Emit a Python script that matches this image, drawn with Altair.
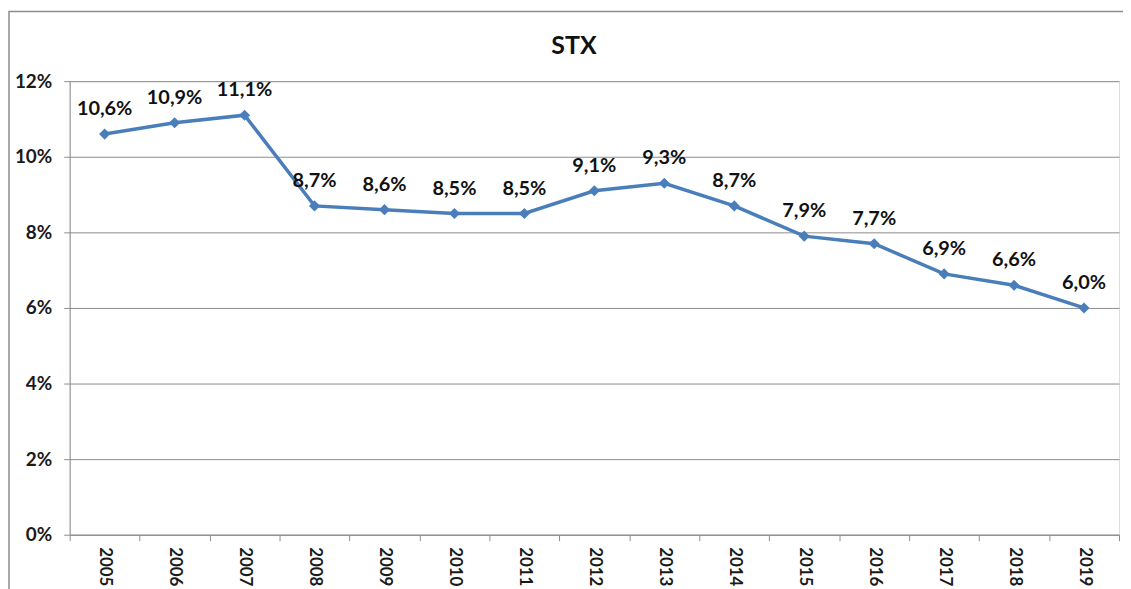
import altair as alt
import pandas as pd

years = ["2005", "2006", "2007", "2008", "2009", "2010", "2011", "2012",
         "2013", "2014", "2015", "2016", "2017", "2018", "2019"]
values = [10.6, 10.9, 11.1, 8.7, 8.6, 8.5, 8.5, 9.1, 9.3, 8.7, 7.9, 7.7, 6.9, 6.6, 6.0]
y_ticks = [0, 0.02, 0.04, 0.06, 0.08, 0.10, 0.12]
title_text = ["STX"]

df = pd.DataFrame({"year": years, "value": [v / 100 for v in values]})

FONT = "Lato"
LINE = "#4A7EBB"
W, H = 1055, 456

x_enc = alt.X("year:N", sort=years, title=None,
              scale=alt.Scale(paddingInner=0, paddingOuter=0),
              axis=alt.Axis(labelAngle=90, labelAlign="left", labelBaseline="middle",
                            labelFont=FONT, labelFontSize=17, labelFontWeight="bold",
                            labelColor="#1a1a1a", labelPadding=6,
                            tickBand="extent", tickSize=6, tickColor="#8c8c8c",
                            domainColor="#8c8c8c", grid=False))
y_enc = alt.Y("value:Q", title=None,
              scale=alt.Scale(domain=[0, 0.12], nice=False),
              axis=alt.Axis(values=y_ticks, format=".0%", labelFont=FONT,
                            labelFontSize=19, labelFontWeight="bold", labelColor="#1a1a1a",
                            labelPadding=12, tickSize=6, tickColor="#8c8c8c",
                            domainColor="#8c8c8c", gridColor="#8c8c8c", gridWidth=1))

base = alt.Chart(df)

border = alt.Chart(pd.DataFrame({"a": [0]})).mark_rect(
    fill=None, stroke="#8c8c8c", strokeWidth=1.5, clip=False
).encode(
    x=alt.value(-61), x2=alt.value(W + 40),
    y=alt.value(-70), y2=alt.value(H + 80)
)

title = alt.Chart(pd.DataFrame({"t": title_text})).mark_text(
    font=FONT, fontSize=25, fontWeight="bold", color="#111111",
    align="center", baseline="middle", clip=False
).encode(text="t:N", x=alt.value(507), y=alt.value(-35))

line = base.mark_line(color=LINE, strokeWidth=3.5).encode(x=x_enc, y=y_enc)
pts = base.mark_point(shape="diamond", filled=True, color=LINE, size=125, opacity=1).encode(
    x=alt.X("year:N", sort=years), y="value:Q")
labels = base.transform_calculate(
    lab="replace(format(datum.value, '.1%'), '.', ',')"
).mark_text(font=FONT, fontSize=20, fontWeight="bold", color="#111111",
            dy=-25, baseline="middle", align="center").encode(
    x=alt.X("year:N", sort=years), y="value:Q", text="lab:N")

chart = alt.layer(border, title, line, pts, labels).properties(
    width=W, height=H,
    autosize=alt.AutoSizeParams(type="none"),
    padding={"left": 62, "top": 72, "right": 4, "bottom": 53},
).configure_view(stroke=None).configure(background="white")

chart.save("out.html", embed_options={"renderer": "svg", "actions": False})
